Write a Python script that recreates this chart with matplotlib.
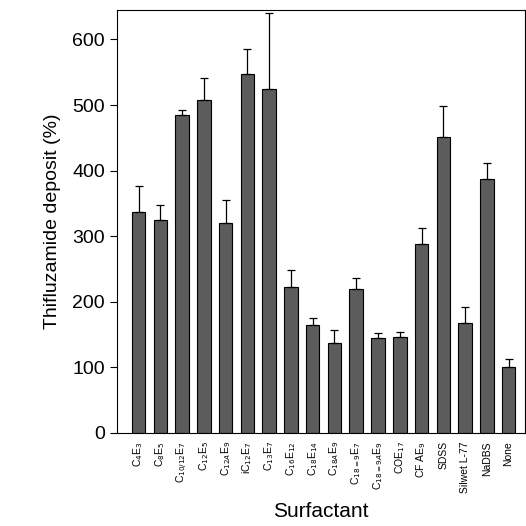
import numpy as np
import matplotlib.pyplot as plt

plt.rcParams['font.family'] = ['Liberation Sans', 'DejaVu Sans']

# surfactant labels
labels = [r'C$_4$E$_3$', r'C$_8$E$_5$', r'C$_{10/12}$E$_7$', r'C$_{12}$E$_5$',
          r'C$_{12A}$E$_9$', r'iC$_{12}$E$_7$', r'C$_{13}$E$_7$', r'C$_{16}$E$_{12}$',
          r'C$_{18}$E$_{14}$', r'C$_{18A}$E$_9$', r'C$_{18=9}$E$_7$', r'C$_{18=9A}$E$_9$',
          r'COE$_{17}$', r'CF AE$_9$', 'SDSS', 'Silwet L-77', 'NaDBS', 'None']
deposit = [337, 325, 485, 508, 320, 547, 525, 222, 165, 137, 220, 145, 147, 288, 452, 168, 387, 100]
err_top = [376, 347, 493, 542, 355, 585, 640, 248, 176, 157, 237, 152, 154, 313, 498, 192, 412, 112]

err = np.array(err_top) - np.array(deposit)
x = np.arange(len(labels))

fig = plt.figure(figsize=(5.26, 5.26), dpi=100)
ax = fig.add_axes([0.222, 0.177, 0.776, 0.804])

ax.bar(x, deposit, width=0.62, color='#5c5c5c', edgecolor='black', linewidth=0.8,
       yerr=[np.zeros(len(err)), err], capsize=3,
       error_kw=dict(ecolor='black', elinewidth=0.9, capthick=0.9))

ax.set_xlim(-1.0, 17.75)
ax.set_ylim(0, 645)
ax.set_yticks([0, 100, 200, 300, 400, 500, 600])
ax.tick_params(axis='y', labelsize=14, length=5, direction='out')
ax.set_xticks(x)
ax.set_xticklabels(labels, rotation=90, fontsize=7.5)
ax.tick_params(axis='x', length=0, pad=6)

ax.set_ylabel('Thifluzamide deposit (%)', fontsize=14, labelpad=8)
ax.set_xlabel('Surfactant', fontsize=15, va='center')
ax.xaxis.set_label_coords(0.5, -0.185)

plt.savefig('out.png', dpi=100)
